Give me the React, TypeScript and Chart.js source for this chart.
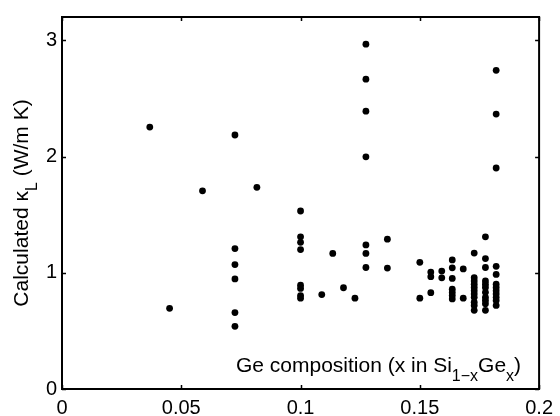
import React, { useEffect, useRef } from "react";
import { Chart, registerables } from "chart.js";

Chart.register(...registerables);

// Ge composition x (one entry per point)
const geComposition: number[] = [
  0.0368,
  0.0451,
  0.0589,
  0.0725, 0.0725, 0.0725, 0.0725, 0.0725, 0.0725,
  0.0817,
  0.1, 0.1, 0.1, 0.1, 0.1, 0.1, 0.1, 0.1,
  0.1089,
  0.1135,
  0.118,
  0.1228,
  0.1274, 0.1274, 0.1274, 0.1274, 0.1274, 0.1274, 0.1274,
  0.1364, 0.1364,
  0.15, 0.15,
  0.1546, 0.1546, 0.1546,
  0.1592, 0.1592,
  0.1636, 0.1636, 0.1636, 0.1636, 0.1636, 0.1636, 0.1636,
  0.1682, 0.1682,
  0.1728, 0.1728, 0.1728, 0.1728, 0.1728, 0.1728, 0.1728, 0.1728, 0.1728, 0.1728, 0.1728,
  0.1775, 0.1775, 0.1775, 0.1775, 0.1775, 0.1775, 0.1775, 0.1775, 0.1775, 0.1775, 0.1775,
  0.182, 0.182, 0.182, 0.182, 0.182, 0.182, 0.182, 0.182, 0.182, 0.182, 0.182, 0.182,
];

// Calculated kappa_L (W/m K), same order as geComposition
const kappaL: number[] = [
  2.253,
  0.694,
  1.705,
  2.185, 1.208, 1.07, 0.947, 0.657, 0.539,
  1.735,
  1.531, 1.309, 1.262, 1.199, 0.893, 0.865, 0.804, 0.781,
  0.812,
  1.166,
  0.871,
  0.781,
  2.966, 2.665, 2.39, 1.997, 1.239, 1.166, 1.045,
  1.289, 1.04,
  1.09, 0.781,
  1.006, 0.966, 0.829,
  1.014, 0.956,
  1.11, 1.042, 0.951, 0.859, 0.831, 0.804, 0.775,
  1.033, 0.781,
  1.169, 0.958, 0.93, 0.901, 0.874, 0.846, 0.817, 0.789, 0.747, 0.719, 0.677,
  1.309, 1.122, 1.045, 0.93, 0.901, 0.874, 0.832, 0.789, 0.762, 0.733, 0.677,
  2.741, 2.365, 1.901, 1.055, 0.986, 0.901, 0.874, 0.846, 0.817, 0.789, 0.762, 0.719,
];

const xTickValues: number[] = [0, 0.05, 0.1, 0.15, 0.2];
const xTickLabels: string[] = ["0", "0.05", "0.1", "0.15", "0.2"];
const yTickValues: number[] = [0, 1, 2, 3];
const yTickLabels: string[] = ["0", "1", "2", "3"];

const FONT = "'Liberation Sans', Arial, Helvetica, sans-serif";

type Run = { text: string; sub?: boolean };
const xTitleRuns: Run[] = [
  { text: "Ge composition (x in Si" },
  { text: "1\u2212x", sub: true },
  { text: "Ge" },
  { text: "x", sub: true },
  { text: ")" },
];
const yTitleRuns: Run[] = [
  { text: "Calculated \u03BA" },
  { text: "L", sub: true },
  { text: " (W/m K)" },
];

const MAIN_SIZE = 21;
const SUB_SIZE = 16;
const SUB_SHIFT = 9;

function runsWidth(ctx: CanvasRenderingContext2D, runs: Run[]) {
  let w = 0;
  for (const r of runs) {
    ctx.font = `${r.sub ? SUB_SIZE : MAIN_SIZE}px ${FONT}`;
    w += ctx.measureText(r.text).width;
  }
  return w;
}

function drawRuns(ctx: CanvasRenderingContext2D, runs: Run[], x0: number, baseline: number) {
  let x = x0;
  ctx.textBaseline = "alphabetic";
  ctx.textAlign = "left";
  for (const r of runs) {
    ctx.font = `${r.sub ? SUB_SIZE : MAIN_SIZE}px ${FONT}`;
    ctx.fillText(r.text, x, baseline + (r.sub ? SUB_SHIFT : 0));
    x += ctx.measureText(r.text).width;
  }
}

const framePlugin = {
  id: "matlabFrame",
  afterDraw(chart: any) {
    const { ctx, chartArea, scales } = chart;
    const { left, right, top, bottom } = chartArea;
    ctx.save();
    ctx.strokeStyle = "#000";
    ctx.lineWidth = 2;
    ctx.strokeRect(left, top, right - left, bottom - top);
    ctx.lineWidth = 1.5;
    const tl = 4;
    ctx.beginPath();
    for (const v of xTickValues) {
      const px = Math.round(scales.x.getPixelForValue(v)) + 0.5;
      ctx.moveTo(px, bottom);
      ctx.lineTo(px, bottom - tl);
      ctx.moveTo(px, top);
      ctx.lineTo(px, top + tl);
    }
    for (const v of yTickValues) {
      const py = Math.round(scales.y.getPixelForValue(v)) + 0.5;
      ctx.moveTo(left, py);
      ctx.lineTo(left + tl, py);
      ctx.moveTo(right, py);
      ctx.lineTo(right - tl, py);
    }
    ctx.stroke();

    ctx.fillStyle = "#000";
    // x title inside plot, bottom-right
    const xw = runsWidth(ctx, xTitleRuns);
    drawRuns(ctx, xTitleRuns, right - 18 - xw, bottom - 17);

    // y title rotated
    const yw = runsWidth(ctx, yTitleRuns);
    ctx.translate(28, (top + bottom) / 2);
    ctx.rotate(-Math.PI / 2);
    drawRuns(ctx, yTitleRuns, -yw / 2, 0);
    ctx.restore();
  },
};

export default function App() {
  const ref = useRef<HTMLCanvasElement | null>(null);
  useEffect(() => {
    if (!ref.current) return;
    const points = geComposition.map((x, i) => ({ x, y: kappaL[i] }));
    const chart = new Chart(ref.current, {
      type: "scatter",
      data: {
        datasets: [
          {
            data: points,
            pointRadius: 3.4,
            pointHoverRadius: 3.4,
            backgroundColor: "#000",
            borderWidth: 0,
          },
        ],
      },
      options: {
        animation: false,
        responsive: false,
        devicePixelRatio: 1,
        layout: { padding: { left: 0, right: 18, top: 9, bottom: 0 } },
        plugins: { legend: { display: false }, tooltip: { enabled: false } },
        scales: {
          x: {
            type: "linear",
            min: 0,
            max: 0.2,
            grid: { display: false, drawTicks: false },
            border: { display: false },
            afterBuildTicks: (s: any) => {
              s.ticks = xTickValues.map((v) => ({ value: v }));
            },
            afterFit: (s: any) => {
              s.height = 27;
            },
            ticks: {
              padding: 7,
              maxRotation: 0,
              autoSkip: false,
              color: "#000",
              font: { family: FONT, size: 20 },
              callback: (_v: any, i: number) => xTickLabels[i],
            },
          },
          y: {
            type: "linear",
            min: 0,
            max: 3.2,
            grid: { display: false, drawTicks: false },
            border: { display: false },
            afterBuildTicks: (s: any) => {
              s.ticks = yTickValues.map((v) => ({ value: v }));
            },
            afterFit: (s: any) => {
              s.width = 62;
            },
            ticks: {
              padding: 5,
              autoSkip: false,
              color: "#000",
              font: { family: FONT, size: 20 },
              callback: (_v: any, i: number) => yTickLabels[i],
            },
          },
        },
      },
      plugins: [framePlugin],
    } as any);
    return () => chart.destroy();
  }, []);
  return (
    <div style={{ position: "absolute", left: 0, top: 0, width: 560, height: 416, background: "#fff" }}>
      <canvas ref={ref} width={560} height={416} style={{ display: "block", width: 560, height: 416 }} />
    </div>
  );
}
